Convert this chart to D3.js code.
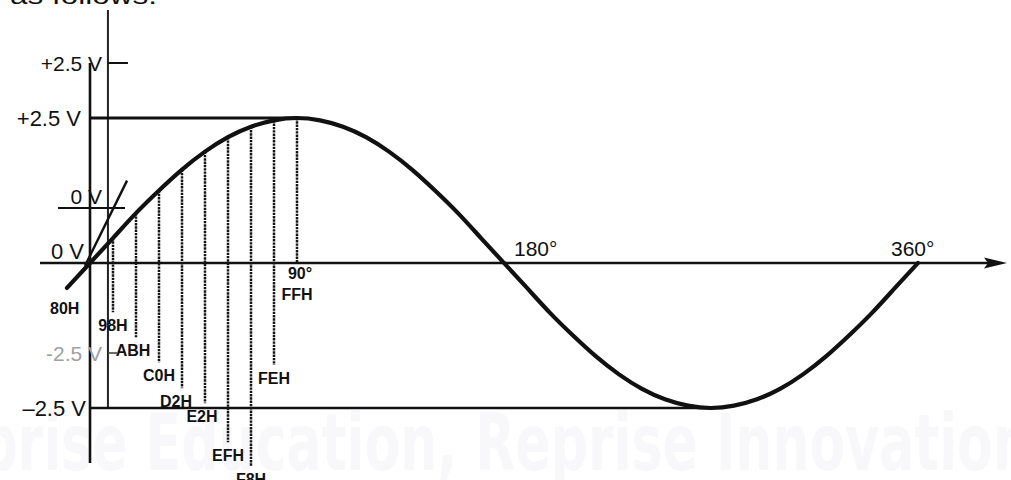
<!DOCTYPE html>
<html>
<head>
<meta charset="utf-8">
<script src="https://cdn.jsdelivr.net/npm/d3@7"></script>
<style>
  html, body { margin: 0; padding: 0; background: #fff; }
  svg { display: block; }
  text { font-family: "Liberation Sans", Arial, Helvetica, sans-serif; fill: #111; }
</style>
</head>
<body>
<div id="chart"></div>
<script>
// ---- data ----
const waveAngles = [-10, 0, 10, 20, 30, 40, 50, 60, 70, 80, 90, 100, 110, 120, 130, 140, 150, 160, 170, 180,
                    190, 200, 210, 220, 230, 240, 250, 260, 270, 280, 290, 300, 310, 320, 330, 340, 350, 360];
const waveVolts  = [-0.43, 0, 0.43, 0.86, 1.25, 1.61, 1.92, 2.17, 2.35, 2.46, 2.5, 2.46, 2.35, 2.17, 1.92, 1.61, 1.25, 0.86, 0.43, 0,
                    -0.43, -0.86, -1.25, -1.61, -1.92, -2.17, -2.35, -2.46, -2.5, -2.46, -2.35, -2.17, -1.92, -1.61, -1.25, -0.86, -0.43, 0];

const codeAngles   = [0, 10, 20, 30, 40, 50, 60, 70, 80, 90];
const codeLabels   = ["80H", "98H", "ABH", "C0H", "D2H", "E2H", "EFH", "F8H", "FEH", "FFH"];
const codeLineEnds = [null, -0.85, -1.28, -1.71, -2.16, -2.42, -3.09, -3.5, -1.76, 0];   // volts where dotted leader stops

const degreeTicks  = [180, 360];
const degreeLabels = ["180°", "360°"];

const mainVoltTicks  = [2.5, 0, -2.5];
const mainVoltLabels = ["+2.5 V", "0 V", "\u20132.5 V"];
const offsetVoltTicks  = [2.5, 0, -2.5];
const offsetVoltLabels = ["+2.5 V", "0 V", "-2.5 V"];

// ---- layout ----
const W = 1011, H = 480;
const svg = d3.select("#chart").append("svg").attr("width", W).attr("height", H);

const x = d3.scaleLinear().domain([0, 360]).range([90, 918]);
const y = d3.scaleLinear().domain([-2.5, 2.5]).range([408, 118]);
const y2 = d3.scaleLinear().domain([-2.5, 2.5]).range([353, 63]);   // offset (upper) voltage scale
const offsetAxisAngle = 7.8;

// very faint watermark text
svg.append("text")
  .attr("x", -95).attr("y", 470)
  .attr("textLength", 1125).attr("lengthAdjust", "spacingAndGlyphs")
  .style("font-family", "'DejaVu Sans Condensed', 'Liberation Sans Narrow', sans-serif")
  .style("font-weight", "bold").style("font-size", "78px")
  .style("fill", "#f8f8fa")
  .text("Reprise Education, Reprise Innovation");

// cropped text at top
svg.append("text")
  .attr("x", 10).attr("y", 4)
  .attr("textLength", 147).attr("lengthAdjust", "spacingAndGlyphs")
  .style("font-size", "24px")
  .text("as follows:");

const g = svg.append("g");

// main vertical axis
g.append("line")
  .attr("x1", x(0)).attr("x2", x(0))
  .attr("y1", y2(2.5)).attr("y2", 463)
  .attr("stroke", "#111").attr("stroke-width", 2.6);

// offset vertical axis
g.append("line")
  .attr("x1", x(offsetAxisAngle)).attr("x2", x(offsetAxisAngle))
  .attr("y1", 10).attr("y2", y(-2.5))
  .attr("stroke", "#222").attr("stroke-width", 2);

// offset axis ticks
g.append("line").attr("x1", x(offsetAxisAngle)).attr("x2", x(offsetAxisAngle) + 20)
  .attr("y1", y2(2.5)).attr("y2", y2(2.5)).attr("stroke", "#111").attr("stroke-width", 2);
g.append("line").attr("x1", 58).attr("x2", 125)
  .attr("y1", y2(0)).attr("y2", y2(0)).attr("stroke", "#111").attr("stroke-width", 2);
g.append("line").attr("x1", x(offsetAxisAngle)).attr("x2", x(offsetAxisAngle) + 9)
  .attr("y1", y2(-2.5)).attr("y2", y2(-2.5)).attr("stroke", "#444").attr("stroke-width", 1.6);

// +2.5 / -2.5 reference lines
g.append("line").attr("x1", x(0)).attr("x2", x(90))
  .attr("y1", y(2.5)).attr("y2", y(2.5)).attr("stroke", "#111").attr("stroke-width", 3);
g.append("line").attr("x1", x(0)).attr("x2", x(270))
  .attr("y1", y(-2.5)).attr("y2", y(-2.5)).attr("stroke", "#111").attr("stroke-width", 2.4);

// x axis with arrow
g.append("line").attr("x1", 40).attr("x2", 992)
  .attr("y1", y(0)).attr("y2", y(0)).attr("stroke", "#111").attr("stroke-width", 2.6);
g.append("path")
  .attr("d", `M${1007},${y(0)} L${984},${y(0) - 5.5} L${988},${y(0)} L${984},${y(0) + 5.5} Z`)
  .attr("fill", "#111");

// dotted leader lines
codeAngles.forEach((a, i) => {
  if (codeLineEnds[i] === null) return;
  const v = waveVolts[waveAngles.indexOf(a)];
  g.append("line")
    .attr("x1", x(a)).attr("x2", x(a))
    .attr("y1", y(v)).attr("y2", y(codeLineEnds[i]))
    .attr("stroke", "#151515").attr("stroke-width", 2.5)
    .attr("stroke-dasharray", "2.4,0.9");
});

// thin diagonal (offset indicator)
g.append("line")
  .attr("x1", x(-2.2)).attr("y1", y(-0.05))
  .attr("x2", x(16.1)).attr("y2", y(1.42))
  .attr("stroke", "#111").attr("stroke-width", 2.4);

// sine wave
const line = d3.line()
  .x((d, i) => x(waveAngles[i]))
  .y(d => y(d))
  .curve(d3.curveNatural);
g.append("path")
  .datum(waveVolts)
  .attr("d", line)
  .attr("fill", "none")
  .attr("stroke", "#111")
  .attr("stroke-width", 4.2)
  .attr("stroke-linecap", "round");

// code labels
codeAngles.forEach((a, i) => {
  let ly;
  if (codeLineEnds[i] === null) ly = y(waveVolts[0]) + 26;
  else if (a === 90) ly = y(0) + 37;
  else ly = y(codeLineEnds[i]) + 19;
  const lx = a === 0 ? x(-11) : x(a) + (a === 40 ? -6 : a === 20 ? -3 : a === 50 ? -3 : 0);
  g.append("text")
    .attr("x", lx).attr("y", ly)
    .attr("text-anchor", "middle")
    .style("font-size", "16px").style("font-weight", "bold")
    .text(codeLabels[i]);
});
g.append("text")
  .attr("x", x(90) + 3).attr("y", y(0) + 16)
  .attr("text-anchor", "middle")
  .style("font-size", "16px").style("font-weight", "bold")
  .text("90°");

// degree labels
degreeTicks.forEach((d, i) => {
  g.append("text")
    .attr("x", x(d) + (d === 180 ? 10 : -27)).attr("y", y(0) - 7)
    .style("font-size", "21px")
    .text(degreeLabels[i]);
});

// main voltage labels
mainVoltTicks.forEach((v, i) => {
  g.append("text")
    .attr("x", v === 2.5 ? 81 : v === 0 ? 84 : 86)
    .attr("y", v === 0 ? y(v) - 4 : y(v) + 8)
    .attr("text-anchor", "end")
    .style("font-size", "22px")
    .text(mainVoltLabels[i]);
});

// offset voltage labels
offsetVoltTicks.forEach((v, i) => {
  g.append("text")
    .attr("x", 102)
    .attr("y", v === 0 ? y2(v) - 4 : y2(v) + 8)
    .attr("text-anchor", "end")
    .style("font-size", "21px")
    .style("fill", v === -2.5 ? "#a0a0a0" : "#111")
    .text(offsetVoltLabels[i]);
});
</script>
</body>
</html>
